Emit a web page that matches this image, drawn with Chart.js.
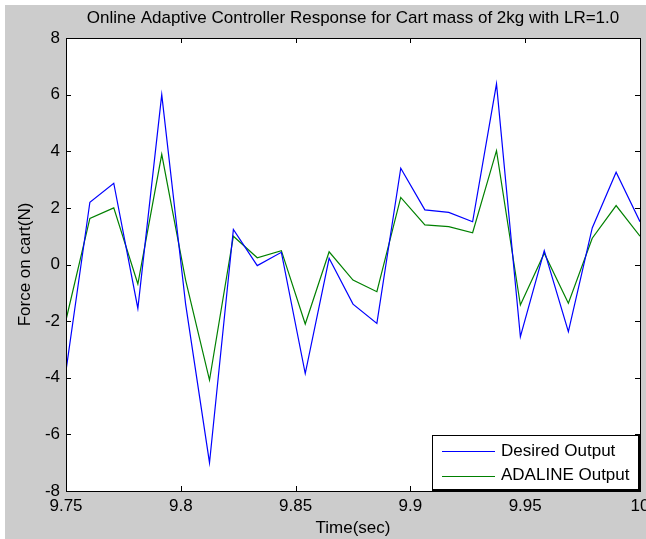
<!DOCTYPE html>
<html lang="en">
<head>
  <meta charset="UTF-8">
  <title>Online Adaptive Controller Response</title>
  <style>
    body { margin: 0; background: #ffffff; }
    #chart { display: block; }
  </style>
</head>
<body>
  <canvas id="chart" width="646" height="539"></canvas>

  <script src="https://cdn.jsdelivr.net/npm/chart.js"></script>
  <script>
    const title = 'Online Adaptive Controller Response for Cart mass of 2kg with LR=1.0';

    // sample times (sec)
    const time = [9.75, 9.7604, 9.7708, 9.7813, 9.7917, 9.8021, 9.8125, 9.8229, 9.8333,
      9.8438, 9.8542, 9.8646, 9.875, 9.8854, 9.8958, 9.9063, 9.9167, 9.9271, 9.9375,
      9.9479, 9.9583, 9.9688, 9.9792, 9.9896, 10.0];

    const desired = [-3.75, 2.2, 2.87, -1.55, 6.0, -1.4, -7.0, 1.24, -0.04, 0.43, -3.85,
      0.22, -1.4, -2.08, 3.4, 1.93, 1.84, 1.51, 6.38, -2.55, 0.49, -2.37, 1.29, 3.26, 1.51];

    const adaline = [-1.96, 1.63, 2.0, -0.69, 3.89, -0.55, -4.08, 1.0, 0.24, 0.49, -2.1,
      0.45, -0.55, -0.96, 2.37, 1.4, 1.34, 1.12, 4.02, -1.43, 0.4, -1.37, 0.93, 2.08, 1.0];

    const xTicks = [9.75, 9.8, 9.85, 9.9, 9.95, 10];
    const yTicks = [-8, -6, -4, -2, 0, 2, 4, 6, 8];

    const FONT = '"Liberation Sans", Arial, sans-serif';
    const SIZE = 17;

    const toPoints = (ys) => ys.map((y, i) => ({ x: time[i], y }));

    // gray figure background, white axes, title centred over the axes
    const background = {
      id: 'background',
      beforeDraw(chart) {
        const { ctx, chartArea: a } = chart;
        ctx.save();
        ctx.fillStyle = '#cccccc';
        ctx.fillRect(5, 5, chart.width - 5, chart.height - 5);
        ctx.fillStyle = '#ffffff';
        ctx.fillRect(a.left, a.top, a.right - a.left, a.bottom - a.top);
        ctx.fillStyle = '#000000';
        ctx.font = SIZE + 'px ' + FONT;
        ctx.textAlign = 'center';
        ctx.textBaseline = 'middle';
        ctx.fillText(title, (a.left + a.right) / 2, 18);
        ctx.restore();
      }
    };

    // box + inward ticks on all four sides
    const frame = {
      id: 'frame',
      afterDatasetsDraw(chart) {
        const { ctx, chartArea: a, scales } = chart;
        const len = 5;
        ctx.save();
        ctx.strokeStyle = '#000000';
        ctx.lineWidth = 1;
        ctx.beginPath();
        scales.x.ticks.forEach(t => {
          const px = Math.round(scales.x.getPixelForValue(t.value)) + 0.5;
          ctx.moveTo(px, a.bottom); ctx.lineTo(px, a.bottom - len);
          ctx.moveTo(px, a.top); ctx.lineTo(px, a.top + len);
        });
        scales.y.ticks.forEach(t => {
          const py = Math.round(scales.y.getPixelForValue(t.value)) + 0.5;
          ctx.moveTo(a.left, py); ctx.lineTo(a.left + len, py);
          ctx.moveTo(a.right, py); ctx.lineTo(a.right - len, py);
        });
        ctx.stroke();
        ctx.strokeRect(Math.round(a.left) + 0.5, Math.round(a.top) + 0.5,
          Math.round(a.right - a.left), Math.round(a.bottom - a.top));
        ctx.restore();
      }
    };

    // MATLAB style legend in lower right corner of the axes
    const boxLegend = {
      id: 'boxLegend',
      afterDraw(chart) {
        const { ctx, chartArea: a } = chart;
        const w = 208, h = 56;
        const left = Math.round(a.right) - w, top = Math.round(a.bottom) - h;
        ctx.save();
        ctx.fillStyle = '#ffffff';
        ctx.fillRect(left, top, w, h);
        ctx.strokeStyle = '#000000';
        ctx.lineWidth = 1;
        ctx.strokeRect(left + 0.5, top + 0.5, w - 1, h - 1);
        // darker right/bottom edge
        ctx.beginPath();
        ctx.moveTo(left + w - 1.5, top + 1); ctx.lineTo(left + w - 1.5, top + h - 1);
        ctx.moveTo(left + 1, top + h - 1.5); ctx.lineTo(left + w - 1, top + h - 1.5);
        ctx.stroke();
        ctx.font = SIZE + 'px ' + FONT;
        ctx.textBaseline = 'middle';
        chart.data.datasets.forEach((ds, i) => {
          const y = top + 16 + i * 24.5;
          ctx.strokeStyle = ds.borderColor;
          ctx.beginPath();
          ctx.moveTo(left + 10, Math.round(y) + 0.5);
          ctx.lineTo(left + 63, Math.round(y) + 0.5);
          ctx.stroke();
          ctx.fillStyle = '#000000';
          ctx.fillText(ds.label, left + 69, y);
        });
        ctx.restore();
      }
    };

    const noPad = (scale) => {
      scale.paddingLeft = 0; scale.paddingRight = 0;
      scale.paddingTop = 0; scale.paddingBottom = 0;
    };

    new Chart(document.getElementById('chart'), {
      type: 'line',
      data: {
        datasets: [
          { label: 'Desired Output', data: toPoints(desired), borderColor: '#0000ff', borderWidth: 1.2 },
          { label: 'ADALINE Output', data: toPoints(adaline), borderColor: '#008000', borderWidth: 1.2 }
        ]
      },
      options: {
        responsive: false,
        animation: false,
        devicePixelRatio: 1,
        layout: { padding: { left: 0, right: 6, top: 38, bottom: 0 } },
        elements: { point: { radius: 0 }, line: { tension: 0, fill: false } },
        plugins: {
          legend: { display: false },
          tooltip: { enabled: false },
          title: { display: false }
        },
        scales: {
          x: {
            type: 'linear',
            min: 9.75,
            max: 10,
            afterBuildTicks: (s) => { s.ticks = xTicks.map(v => ({ value: v })); },
            afterFit: (s) => { s.height = 48; noPad(s); },
            grid: { display: false, drawTicks: false },
            border: { display: false },
            ticks: {
              color: '#000000',
              padding: 5,
              maxRotation: 0,
              font: { family: FONT, size: SIZE },
              callback: (v) => String(Math.round(v * 100) / 100)
            },
            title: {
              display: true,
              text: 'Time(sec)',
              color: '#000000',
              font: { family: FONT, size: SIZE },
              padding: { top: 0, bottom: 0 }
            }
          },
          y: {
            min: -8,
            max: 8,
            afterBuildTicks: (s) => { s.ticks = yTicks.map(v => ({ value: v })); },
            afterFit: (s) => { s.width = 66; noPad(s); },
            grid: { display: false, drawTicks: false },
            border: { display: false },
            ticks: {
              color: '#000000',
              padding: 6,
              font: { family: FONT, size: SIZE }
            },
            title: {
              display: true,
              text: 'Force on cart(N)',
              color: '#000000',
              font: { family: FONT, size: SIZE },
              padding: { top: 15.3, bottom: 0 }
            }
          }
        }
      },
      plugins: [background, frame, boxLegend]
    });
  </script>
</body>
</html>
